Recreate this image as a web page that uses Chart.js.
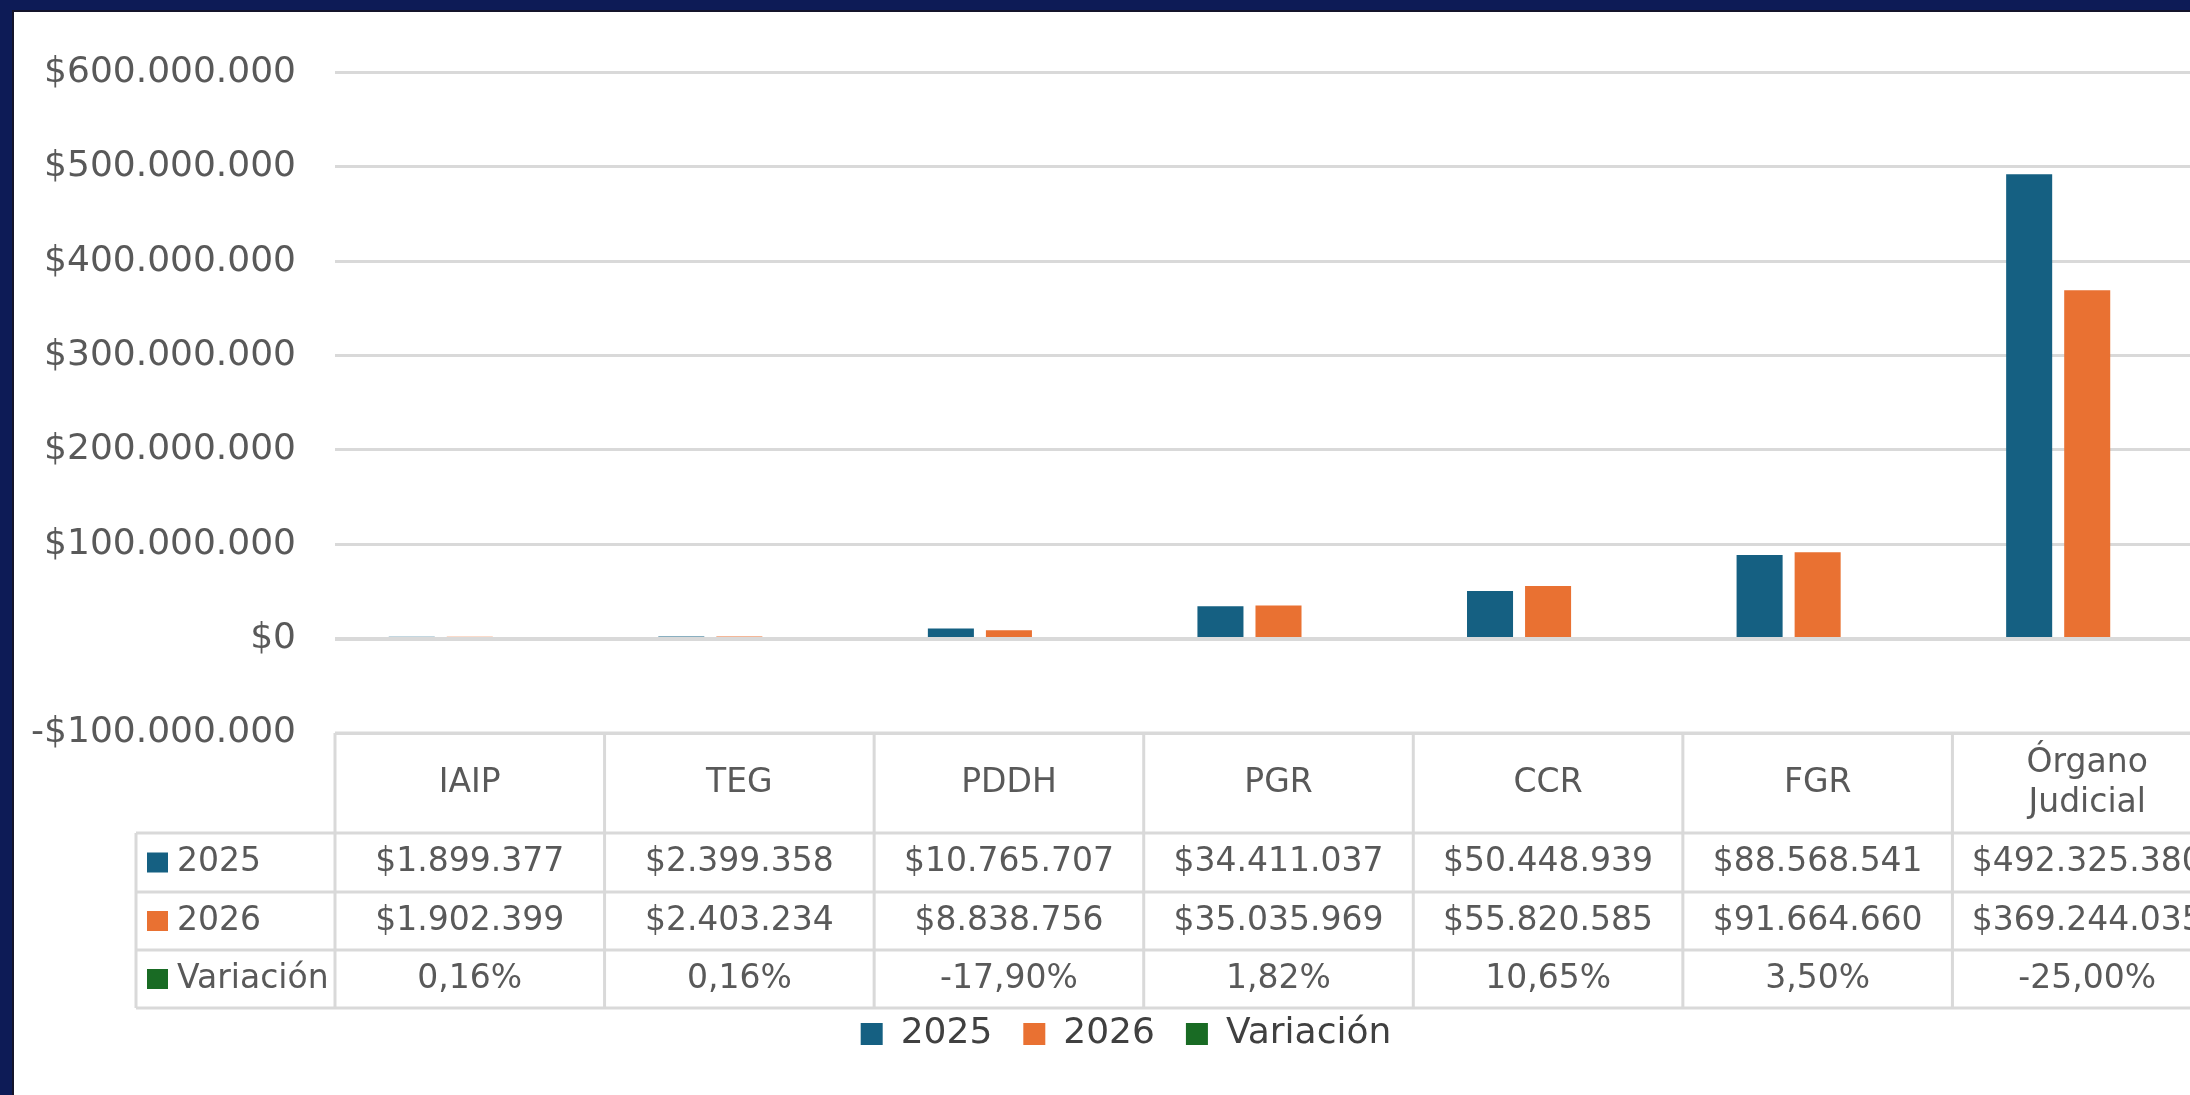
<!DOCTYPE html>
<html>
<head>
<meta charset="utf-8">
<title>Presupuesto 2025 - 2026</title>
<script src="https://cdn.jsdelivr.net/npm/chart.js@4.4.1/dist/chart.umd.min.js"></script>
<style>
    html, body { margin: 0; padding: 0; }
    body { width: 2190px; height: 1095px; overflow: hidden; background: #0d1b56; position: relative; }
    .panel { position: absolute; left: 14px; top: 12px; width: 2400px; height: 1200px; background: #fff; box-shadow: -2px -2px 0 #14142a; }
    .chart-box { position: absolute; left: 14px; top: 12px; width: 2224px; height: 1083px; }
</style>
</head>
<body>
<div class="panel"></div>
<div class="chart-box"><canvas id="chart"></canvas></div>

<script>
// --- data ---
const categories = ['IAIP', 'TEG', 'PDDH', 'PGR', 'CCR', 'FGR', ['Órgano', 'Judicial']];
const values2025 = [1899377, 2399358, 10765707, 34411037, 50448939, 88568541, 492325380];
const values2026 = [1902399, 2403234, 8838756, 35035969, 55820585, 91664660, 369244035];
const variacion = [0.0016, 0.0016, -0.1790, 0.0182, 0.1065, 0.0350, -0.2500];
const seriesNames = ['2025', '2026', 'Variación'];
const seriesColors = ['#156082', '#E97132', '#196B24'];

const FONT = 'DejaVu Sans';
const TEXT = '#595959';
const LINE = '#d9d9d9';

// table geometry (header row + one row per series)
const HEADER_H = 100;
const ROW_H = [59, 58, 58];
const LABEL_COL_W = 199;

function money(v) {
    const s = Math.abs(Math.round(v)).toString().replace(/\B(?=(\d{3})+(?!\d))/g, '.');
    return (v < 0 ? '-$' : '$') + s;
}
function pct(v) {
    return (v * 100).toFixed(2).replace('.', ',') + '%';
}

// the $0 line sits over the bars' base, like in Excel
const zeroLine = {
    id: 'zeroLine',
    afterDatasetsDraw(chart) {
        const ctx = chart.ctx;
        const area = chart.chartArea;
        const y = chart.scales.y.getPixelForValue(0);
        const y0 = Math.floor(y - 1.5);
        ctx.save();
        ctx.fillStyle = LINE;
        ctx.fillRect(area.left, y0, area.right - area.left, Math.ceil(y + 1.5) - y0);
        ctx.restore();
    }
};

// draws the Excel-style data table under the plot, aligned on the x scale
const dataTable = {
    id: 'dataTable',
    afterDraw(chart) {
        const ctx = chart.ctx;
        const xs = chart.scales.x;
        const area = chart.chartArea;
        const n = categories.length;
        const colW = (area.right - area.left) / n;
        const labelLeft = area.left - LABEL_COL_W;

        const tops = [area.bottom, area.bottom + HEADER_H];
        ROW_H.forEach(h => tops.push(tops[tops.length - 1] + h));
        const bottom = tops[tops.length - 1];

        ctx.save();
        ctx.strokeStyle = LINE;
        ctx.lineWidth = 3;
        ctx.beginPath();
        // horizontal lines
        ctx.moveTo(area.left, tops[0]); ctx.lineTo(area.right, tops[0]);
        for (let i = 1; i < tops.length; i++) {
            ctx.moveTo(labelLeft, tops[i]); ctx.lineTo(area.right, tops[i]);
        }
        // vertical lines
        for (let k = 0; k <= n; k++) {
            const x = area.left + k * colW;
            ctx.moveTo(x, tops[0]); ctx.lineTo(x, bottom);
        }
        ctx.moveTo(labelLeft, tops[1]); ctx.lineTo(labelLeft, bottom);
        ctx.stroke();

        ctx.fillStyle = TEXT;
        ctx.font = '33px "' + FONT + '"';
        ctx.textAlign = 'center';
        ctx.textBaseline = 'middle';

        // header: category names
        categories.forEach((c, i) => {
            const cx = xs.getPixelForValue(i);
            const cy = tops[0] + HEADER_H / 2;
            const lines = Array.isArray(c) ? c : [c];
            lines.forEach((t, j) => {
                ctx.fillText(t, cx, cy + (j - (lines.length - 1) / 2) * 40);
            });
        });

        // body rows
        const rows = [values2025.map(money), values2026.map(money), variacion.map(pct)];
        rows.forEach((vals, r) => {
            const cy = (tops[r + 1] + tops[r + 2]) / 2;
            vals.forEach((t, i) => {
                ctx.fillText(t, xs.getPixelForValue(i), cy);
            });
            // row label with series key
            ctx.fillStyle = seriesColors[r];
            ctx.fillRect(labelLeft + 11, cy - 10, 21, 20);
            ctx.fillStyle = TEXT;
            ctx.textAlign = 'left';
            ctx.fillText(seriesNames[r], labelLeft + 41, cy);
            ctx.textAlign = 'center';
        });
        ctx.restore();
    }
};

new Chart(document.getElementById('chart'), {
    type: 'bar',
    data: {
        labels: categories,
        datasets: [
            { label: seriesNames[0], data: values2025, backgroundColor: seriesColors[0] },
            { label: seriesNames[1], data: values2026, backgroundColor: seriesColors[1] },
            // percentages on the money axis: zero-height bars, as in the original
            { label: seriesNames[2], data: variacion, backgroundColor: seriesColors[2], inflateAmount: 0 }
        ]
    },
    options: {
        responsive: true,
        maintainAspectRatio: false,
        animation: false,
        datasets: { bar: { categoryPercentage: 0.646, barPercentage: 0.793 } },
        layout: { padding: { left: 16, right: 16, top: 55, bottom: 33 } },
        plugins: {
            legend: {
                position: 'bottom',
                labels: {
                    boxWidth: 22,
                    boxHeight: 22,
                    padding: 31,
                    color: '#404040',
                    font: { family: FONT, size: 36 }
                }
            },
            tooltip: { enabled: false }
        },
        scales: {
            x: {
                grid: { display: false },
                border: { display: false },
                ticks: { display: false },
                afterFit(s) { s.height = 252; }
            },
            y: {
                min: -100000000,
                max: 600000000,
                ticks: {
                    stepSize: 100000000,
                    padding: 39,
                    color: TEXT,
                    font: { family: FONT, size: 36 },
                    callback: v => money(v)
                },
                grid: { color: LINE, lineWidth: 3, drawTicks: false },
                border: { display: false },
                afterFit(s) { s.width = 305; }
            }
        }
    },
    plugins: [zeroLine, dataTable]
});
</script>
</body>
</html>
